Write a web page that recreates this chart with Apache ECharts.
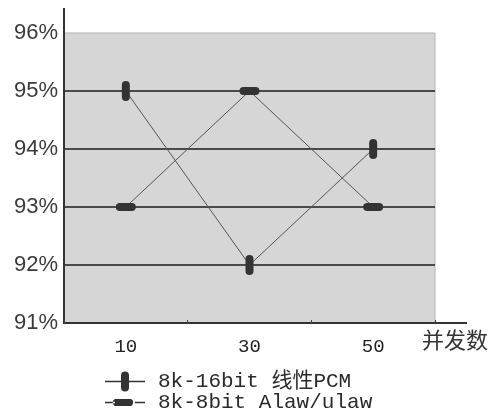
<!DOCTYPE html>
<html>
<head>
<meta charset="utf-8">
<script src="https://cdn.jsdelivr.net/npm/echarts@6/dist/echarts.min.js"></script>
<style>
  html, body { margin: 0; padding: 0; background: #fff; }
  #chart { width: 495px; height: 416px; }
</style>
</head>
<body>
<div id="chart"></div>
<script>
// 并发数 categories
const categories = ['10', '30', '50'];
// 8k-16bit 线性PCM
const pcmValues = [95, 92, 94];
// 8k-8bit Alaw/ulaw
const alawValues = [93, 95, 93];
const yMin = 91, yMax = 96, yStep = 1;

// plot box
const G = { left: 64, top: 33, right: 60, bottom: 93 };
const W = 495, H = 416;

// pill shaped markers
const vPill = 'path://M0,4 A4,4 0 0 1 8,4 L8,16 A4,4 0 0 1 0,16 Z';
const hPill = 'path://M4,0 L16,0 A4,4 0 0 1 16,8 L4,8 A4,4 0 0 1 4,0 Z';
// legend icons: thin line with the pill in the middle
const vPillIcon = 'path://M0,9.2 L16,9.2 L16,4 A4,4 0 0 1 24,4 L24,9.2 L40,9.2 L40,10.8 L24,10.8 L24,16 A4,4 0 0 1 16,16 L16,10.8 L0,10.8 Z';
const hPillIcon = 'path://M0,2.7 L10,2.7 L10,0 L26,0 A4,4 0 0 1 26,7 L10,7 L10,4.3 L0,4.3 Z M30,2.7 L40,2.7 L40,4.3 L30,4.3 Z M10,0 A4,4 0 0 0 10,7 Z';

const chart = echarts.init(document.getElementById('chart'));
chart.setOption({
  animation: false,
  backgroundColor: '#fff',
  grid: {
    left: G.left, top: G.top, right: G.right, bottom: G.bottom,
    outerBoundsMode: 'none',
    show: true,
    backgroundColor: '#d6d6d6',
    borderColor: '#b4b4b4',
    borderWidth: 1
  },
  legend: {
    orient: 'vertical',
    left: 105,
    top: 371,
    padding: 0,
    height: 45,
    itemWidth: 40,
    itemHeight: 20,
    itemGap: 0,
    textStyle: {
      fontFamily: 'Liberation Mono, Noto Sans CJK SC', fontSize: 21, lineHeight: 20,
      color: '#2a2a2a', padding: [0, 0, 0, 8]
    },
    data: [
      { name: '8k-16bit 线性PCM', icon: vPillIcon },
      { name: '8k-8bit Alaw/ulaw', icon: hPillIcon }
    ]
  },
  xAxis: {
    type: 'category',
    data: categories,
    boundaryGap: true,
    name: '并发数',
    nameLocation: 'end',
    nameGap: -13,
    nameTextStyle: {
      fontFamily: 'Noto Sans CJK SC', fontSize: 22, color: '#333',
      align: 'left', verticalAlign: 'top', padding: [6, 0, 0, 0]
    },
    axisLine: { lineStyle: { color: '#333', width: 2 } },
    axisTick: { show: true, inside: true, length: 3, lineStyle: { color: '#444' } },
    axisLabel: { fontFamily: 'Liberation Mono', fontSize: 19, color: '#222', margin: 14 },
    splitLine: { show: false }
  },
  yAxis: {
    type: 'value',
    min: yMin, max: yMax, interval: yStep,
    axisLine: { show: true, lineStyle: { color: '#333', width: 2 } },
    axisTick: { show: false },
    axisLabel: {
      formatter: '{value}%', fontFamily: 'Liberation Sans', fontSize: 22,
      color: '#3a3a3a', margin: 6
    },
    splitLine: {
      show: true, showMinLine: false, showMaxLine: false,
      lineStyle: { color: '#4a4a4a', width: 2 }
    }
  },
  graphic: [
    { type: 'line', silent: true, z: 10,
      shape: { x1: G.left, y1: 8, x2: G.left, y2: G.top },
      style: { stroke: '#333', lineWidth: 2 } },
    { type: 'line', silent: true, z: 10,
      shape: { x1: W - G.right, y1: H - G.bottom, x2: 467, y2: H - G.bottom },
      style: { stroke: '#333', lineWidth: 2 } }
  ],
  series: [
    {
      name: '8k-16bit 线性PCM',
      type: 'line',
      data: pcmValues,
      symbol: vPill,
      symbolSize: [8, 20],
      lineStyle: { color: '#555', width: 1 },
      itemStyle: { color: '#333' },
      z: 3
    },
    {
      name: '8k-8bit Alaw/ulaw',
      type: 'line',
      data: alawValues,
      symbol: hPill,
      symbolSize: [20, 8],
      lineStyle: { color: '#555', width: 1 },
      itemStyle: { color: '#333' },
      z: 3
    }
  ]
});
</script>
</body>
</html>
